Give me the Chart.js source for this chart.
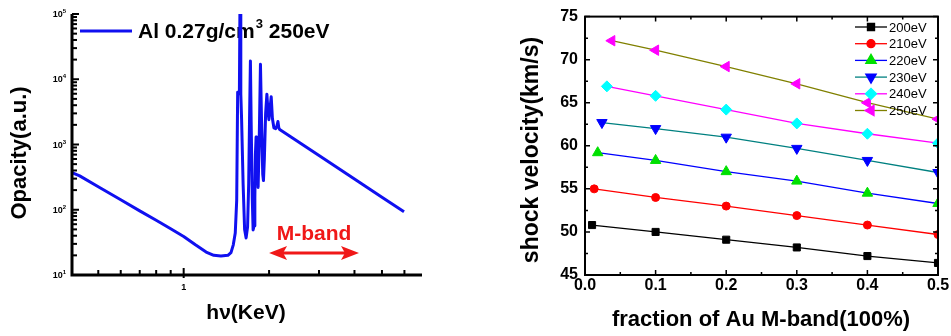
<!DOCTYPE html>
<html>
<head>
    <title>Al opacity and shock velocity</title>
    <meta charset="UTF-8">
    <script src="https://cdn.jsdelivr.net/npm/chart.js@4.4.1/dist/chart.umd.min.js"></script>
    <style>
        body { margin: 0; background: #fff; }
        .wrap { position: relative; width: 951px; height: 336px; overflow: hidden; }
        #opacityChart { position: absolute; left: 0; top: 0; }
        #shockChart { position: absolute; left: 480px; top: 0; }
    </style>
</head>
<body>
    <div class="wrap">
        <canvas id="opacityChart" width="440" height="336"></canvas>
        <canvas id="shockChart" width="471" height="336"></canvas>
    </div>

    <script>
        // left panel: Al opacity spectrum (photon energy in keV)
        const photonEnergy = [0.404, 0.43, 0.5, 0.6, 0.7, 0.8, 0.9, 1.0, 1.1, 1.2, 1.277, 1.353, 1.432, 1.468,
            1.496, 1.52, 1.538, 1.55, 1.562, 1.572, 1.58, 1.59, 1.60, 1.62, 1.64, 1.66, 1.68, 1.695, 1.707,
            1.719, 1.73, 1.745, 1.757, 1.771, 1.782, 1.79, 1.80, 1.81, 1.83, 1.845, 1.865, 1.885, 1.90, 1.911,
            1.925, 1.945, 1.965, 1.98, 1.997, 2.015, 2.035, 2.055, 2.08, 2.11, 2.13, 2.149, 2.165, 2.18,
            3.0, 4.0, 5.0, 5.98];
        const opacity = [370, 330, 225, 142, 96, 69, 51, 39, 29, 22.5, 20, 19.5, 20, 22,
            29, 44, 140, 6300, 6000, 6500, 200000, 6000, 2500, 250, 50, 37, 55, 250, 2500,
            19000, 2000, 150, 49, 57, 150, 700, 1300, 1100, 220, 1000, 17000, 1500, 350, 280,
            600, 3000, 5900, 3500, 2400, 3500, 5400, 2500, 1800, 1750, 1900, 2250, 1800, 1700,
            678, 296, 156, 93];
        const opacityTickLabels = [10, 100, 1000, 10000, 100000];
        const energyTickLabels = [1];
        const mBandRange = [2.0, 4.15];

        // right panel: shock velocity vs Au M-band fraction
        const temperatures = ['200eV', '210eV', '220eV', '230eV', '240eV', '250eV'];
        const firstFraction = [0.010, 0.013, 0.018, 0.024, 0.031, 0.038];
        const fractionSteps = [0.1, 0.2, 0.3, 0.4, 0.5];
        const velocity200 = [50.8, 50.0, 49.1, 48.2, 47.2, 46.4];
        const velocity210 = [55.0, 54.0, 53.0, 51.9, 50.8, 49.7];
        const velocity220 = [59.2, 58.3, 57.0, 55.9, 54.5, 53.3];
        const velocity230 = [62.7, 62.0, 61.0, 59.7, 58.3, 56.9];
        const velocity240 = [66.9, 65.8, 64.2, 62.6, 61.4, 60.3];
        const velocity250 = [72.2, 71.1, 69.2, 67.2, 65.0, 63.1];
        const fractionTicks = [0, 0.05, 0.1, 0.15, 0.2, 0.25, 0.3, 0.35, 0.4, 0.45, 0.5];
        const velocityTicks = [45, 47.5, 50, 52.5, 55, 57.5, 60, 62.5, 65, 67.5, 70, 72.5, 75];

        const FONT = "'Liberation Sans', Arial, Helvetica, sans-serif";
        Chart.defaults.font.family = FONT;

        // ---------- left chart ----------
        const opacityDecor = {
            id: 'opacityDecor',
            beforeDatasetsDraw(chart) {
                const ctx = chart.ctx;
                ctx.save();
                // legend
                ctx.strokeStyle = '#1010f0';
                ctx.lineWidth = 3;
                ctx.beginPath();
                ctx.moveTo(80, 31);
                ctx.lineTo(132, 31);
                ctx.stroke();
                ctx.fillStyle = '#000';
                ctx.textBaseline = 'alphabetic';
                ctx.font = 'bold 21px ' + FONT;
                let tx = 138;
                ctx.fillText('Al 0.27g/cm', tx, 38);
                tx += ctx.measureText('Al 0.27g/cm').width + 1;
                ctx.font = 'bold 13px ' + FONT;
                ctx.fillText('3', tx, 28);
                tx += ctx.measureText('3').width;
                ctx.font = 'bold 21px ' + FONT;
                ctx.fillText(' 250eV', tx, 38);
                ctx.restore();
            },
            afterDraw(chart) {
                const {ctx, chartArea: a, scales: {x, y}} = chart;
                ctx.save();
                ctx.strokeStyle = '#000';
                ctx.lineWidth = 3;
                ctx.beginPath();
                ctx.moveTo(a.left, a.top);
                ctx.lineTo(a.left, a.bottom);
                ctx.lineTo(a.right, a.bottom);
                ctx.stroke();

                // log ticks, pointing inward
                ctx.lineWidth = 2;
                for (let n = 1; n <= 5; n++) {
                    for (let k = 1; k <= 9; k++) {
                        const v = k * Math.pow(10, n);
                        if (v > 100000) break;
                        const py = y.getPixelForValue(v);
                        ctx.beginPath();
                        ctx.moveTo(a.left, py);
                        ctx.lineTo(a.left + (k === 1 ? 7 : 5), py);
                        ctx.stroke();
                    }
                }
                for (let n = -1; n <= 0; n++) {
                    for (let k = 1; k <= 9; k++) {
                        const v = k * Math.pow(10, n);
                        if (v < 0.404 || v > 6.92) continue;
                        const px = x.getPixelForValue(v);
                        ctx.beginPath();
                        ctx.moveTo(px, a.bottom + (k === 1 && n === 0 ? 3 : 0));
                        ctx.lineTo(px, a.bottom - (k === 1 && n === 0 ? 7 : 5));
                        ctx.stroke();
                    }
                }

                // tick labels
                ctx.fillStyle = '#000';
                ctx.textBaseline = 'alphabetic';
                opacityTickLabels.forEach(v => {
                    const py = y.getPixelForValue(v);
                    const exp = String(Math.round(Math.log10(v)));
                    ctx.font = 'bold 6px ' + FONT;
                    const we = ctx.measureText(exp).width;
                    ctx.textAlign = 'left';
                    ctx.fillText(exp, 66 - we, py - 1);
                    ctx.font = 'bold 9px ' + FONT;
                    ctx.textAlign = 'right';
                    ctx.fillText('10', 66 - we, py + 3);
                });
                ctx.font = 'bold 9px ' + FONT;
                ctx.textAlign = 'center';
                ctx.textBaseline = 'top';
                energyTickLabels.forEach(v => {
                    ctx.fillText(String(v), x.getPixelForValue(v), a.bottom + 8);
                });

                // axis titles
                ctx.textBaseline = 'middle';
                ctx.font = 'bold 21px ' + FONT;
                ctx.fillText('h\u03bd(KeV)', 246, 313);
                ctx.save();
                ctx.translate(20, 153);
                ctx.rotate(-Math.PI / 2);
                ctx.font = 'bold 22px ' + FONT;
                ctx.fillText('Opacity(a.u.)', 0, 0);
                ctx.restore();

                // M-band arrow
                const x0 = x.getPixelForValue(mBandRange[0]);
                const x1 = x.getPixelForValue(mBandRange[1]);
                const ay = y.getPixelForValue(21.8);
                ctx.strokeStyle = '#f01818';
                ctx.fillStyle = '#f01818';
                ctx.lineWidth = 3;
                ctx.beginPath();
                ctx.moveTo(x0 + 10, ay);
                ctx.lineTo(x1 - 10, ay);
                ctx.stroke();
                ctx.beginPath();
                ctx.moveTo(x0, ay);
                ctx.lineTo(x0 + 18, ay - 7);
                ctx.lineTo(x0 + 14, ay);
                ctx.lineTo(x0 + 18, ay + 7);
                ctx.closePath();
                ctx.fill();
                ctx.beginPath();
                ctx.moveTo(x1, ay);
                ctx.lineTo(x1 - 18, ay - 7);
                ctx.lineTo(x1 - 14, ay);
                ctx.lineTo(x1 - 18, ay + 7);
                ctx.closePath();
                ctx.fill();
                ctx.font = 'bold 21px ' + FONT;
                ctx.textAlign = 'center';
                ctx.textBaseline = 'alphabetic';
                ctx.fillText('M-band', (x0 + x1) / 2, ay - 13);
                ctx.restore();
            }
        };

        new Chart(document.getElementById('opacityChart'), {
            type: 'line',
            data: {
                datasets: [{
                    label: 'Al 0.27g/cm3 250eV',
                    data: photonEnergy.map((e, i) => ({x: e, y: opacity[i]})),
                    borderColor: '#1010f0',
                    borderWidth: 3,
                    borderJoinStyle: 'round',
                    pointRadius: 0,
                    tension: 0
                }]
            },
            options: {
                responsive: false,
                animation: false,
                devicePixelRatio: 1,
                layout: { padding: { left: 72, top: 14, right: 18, bottom: 61 } },
                plugins: { legend: { display: false }, tooltip: { enabled: false } },
                scales: {
                    x: { type: 'logarithmic', display: false, min: 0.404, max: 6.92 },
                    y: { type: 'logarithmic', display: false, min: 10, max: 100000 }
                }
            },
            plugins: [opacityDecor]
        });

        // ---------- right chart ----------
        const lineColors = ['#000000', '#ff0000', '#0000ff', '#008080', '#ff00ff', '#808000'];
        const markerColors = ['#000000', '#ff0000', '#00e000', '#0000ff', '#00ffff', '#ff00ff'];
        const markerStyles = ['rect', 'circle', 'triangle', 'triangle', 'rectRot', 'triangle'];
        const markerRotation = [0, 0, 0, 180, 0, 270];
        const markerRadius = [5, 4, 6, 6, 5.5, 6];
        const velocities = [velocity200, velocity210, velocity220, velocity230, velocity240, velocity250];

        const isStep = (v, step) => Math.abs(v / step - Math.round(v / step)) < 1e-6;

        function drawMarker(ctx, i, cx, cy) {
            ctx.fillStyle = markerColors[i];
            ctx.strokeStyle = markerColors[i];
            const opts = { pointStyle: markerStyles[i], rotation: markerRotation[i], radius: markerRadius[i], borderWidth: 1 };
            if (Chart.helpers && Chart.helpers.drawPoint) {
                Chart.helpers.drawPoint(ctx, opts, cx, cy);
                return;
            }
            ctx.beginPath();
            ctx.arc(cx, cy, markerRadius[i], 0, Math.PI * 2);
            ctx.fill();
        }

        const shockDecor = {
            id: 'shockDecor',
            afterDraw(chart) {
                const {ctx, chartArea: a, scales: {x, y}} = chart;
                ctx.save();
                ctx.strokeStyle = '#000';
                ctx.lineWidth = 2;
                ctx.strokeRect(a.left, a.top, a.right - a.left, a.bottom - a.top);
                ctx.lineWidth = 1.5;
                fractionTicks.forEach(v => {
                    const px = x.getPixelForValue(v);
                    const len = isStep(v, 0.1) ? 5 : 3;
                    ctx.beginPath();
                    ctx.moveTo(px, a.bottom); ctx.lineTo(px, a.bottom - len);
                    ctx.moveTo(px, a.top); ctx.lineTo(px, a.top + len);
                    ctx.stroke();
                });
                velocityTicks.forEach(v => {
                    const py = y.getPixelForValue(v);
                    const len = isStep(v, 5) ? 5 : 3;
                    ctx.beginPath();
                    ctx.moveTo(a.left, py); ctx.lineTo(a.left + len, py);
                    ctx.moveTo(a.right, py); ctx.lineTo(a.right - len, py);
                    ctx.stroke();
                });

                // legend
                ctx.font = '13px ' + FONT;
                ctx.textBaseline = 'middle';
                ctx.textAlign = 'left';
                temperatures.forEach((t, i) => {
                    const ly = 27 + i * 16.7;
                    ctx.strokeStyle = lineColors[i];
                    ctx.lineWidth = 1.3;
                    ctx.beginPath();
                    ctx.moveTo(375, ly); ctx.lineTo(407, ly);
                    ctx.stroke();
                    drawMarker(ctx, i, 391, ly);
                    ctx.fillStyle = '#000';
                    ctx.fillText(t, 409, ly + 1);
                });

                // axis titles
                ctx.fillStyle = '#000';
                ctx.textAlign = 'center';
                ctx.font = 'bold 22px ' + FONT;
                ctx.fillText('fraction of Au M-band(100%)', 281, 320);
                ctx.save();
                ctx.translate(52, 150);
                ctx.rotate(-Math.PI / 2);
                ctx.font = 'bold 23px ' + FONT;
                ctx.fillText('shock velocity(km/s)', 0, 0);
                ctx.restore();
                ctx.restore();
            }
        };

        new Chart(document.getElementById('shockChart'), {
            type: 'line',
            data: {
                datasets: temperatures.map((t, i) => ({
                    label: t,
                    data: [firstFraction[i], ...fractionSteps].map((f, j) => ({x: f, y: velocities[i][j]})),
                    borderColor: lineColors[i],
                    borderWidth: 1.3,
                    pointStyle: markerStyles[i],
                    rotation: markerRotation[i],
                    pointRadius: markerRadius[i],
                    pointBackgroundColor: markerColors[i],
                    pointBorderColor: markerColors[i],
                    pointBorderWidth: 1,
                    tension: 0
                }))
            },
            options: {
                responsive: false,
                animation: false,
                devicePixelRatio: 1,
                layout: { padding: { left: 0, top: 15, right: 13, bottom: 0 } },
                plugins: { legend: { display: false }, tooltip: { enabled: false } },
                scales: {
                    x: {
                        type: 'linear', min: 0, max: 0.5,
                        grid: { display: false, drawTicks: false },
                        border: { display: false },
                        afterBuildTicks: s => { s.ticks = fractionTicks.map(v => ({value: v})); },
                        afterFit: s => { s.height = 61; },
                        ticks: {
                            autoSkip: false, maxRotation: 0, padding: 1, color: '#000',
                            font: { size: 16, weight: 'bold' },
                            callback: v => isStep(v, 0.1) ? v.toFixed(1) : ''
                        }
                    },
                    y: {
                        type: 'linear', min: 45, max: 75,
                        grid: { display: false, drawTicks: false },
                        border: { display: false },
                        afterBuildTicks: s => { s.ticks = velocityTicks.map(v => ({value: v})); },
                        afterFit: s => { s.width = 105; },
                        ticks: {
                            autoSkip: false, padding: 7, color: '#000',
                            font: { size: 16, weight: 'bold' },
                            callback: v => isStep(v, 5) ? String(v) : ''
                        }
                    }
                }
            },
            plugins: [shockDecor]
        });
    </script>
</body>
</html>
